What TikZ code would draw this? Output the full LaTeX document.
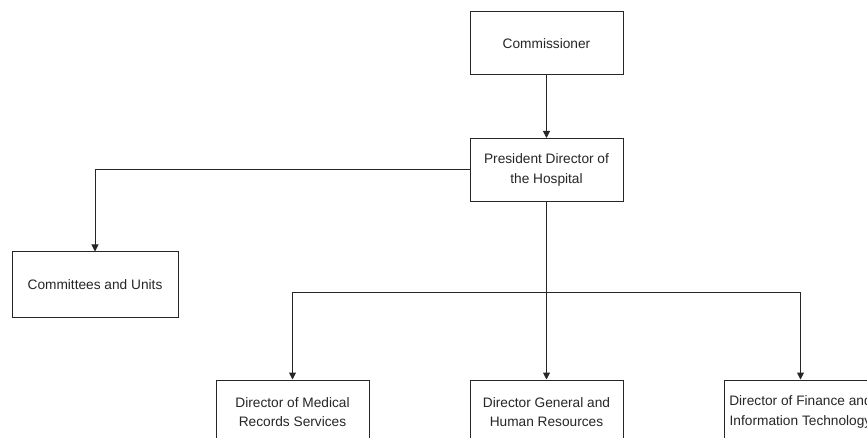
\documentclass[tikz,border=0pt]{standalone}
\usepackage{fontspec}
\setmainfont{Liberation Sans}
\usetikzlibrary{arrows.meta}
\begin{document}
\begin{tikzpicture}[x=1pt,y=-1pt,
  orgbox/.style={draw=black!85, line width=1pt, fill=white, minimum width=153pt, minimum height=63pt,
    inner sep=0pt, align=center, font=\fontsize{13.7}{19.5}\selectfont, text=black!85},
  link/.style={draw=black!85, line width=1pt, -{Triangle[length=7pt,width=7pt]}}
]
\useasboundingbox (0,0) rectangle (867,438);
\node[orgbox] (comm) at (546.5,43.5) {Commissioner};
\node[orgbox] (pres) at (546.5,170) {President Director of\\the Hospital};
\node[orgbox, minimum width=166pt, minimum height=65pt] (cttee) at (95,284.5) {Committees and Units};
\node[orgbox, minimum height=64pt] (med) at (292.5,412) {Director of Medical\\Records Services};
\node[orgbox, minimum height=64pt] (gen) at (546.5,412) {Director General and\\Human Resources};
\node[orgbox, minimum height=64pt] (fin) at (800.5,412) {Director of Finance and\\Information Technology};
\coordinate (fork) at (546.5,292);
\draw[link] (comm.south) -- (pres.north);
\draw[link] (pres.west) -| (cttee.north);
\draw[link] (pres.south) -- (gen.north);
\draw[link] (fork) -| (med.north);
\draw[link] (fork) -| (fin.north);
\end{tikzpicture}
\end{document}
